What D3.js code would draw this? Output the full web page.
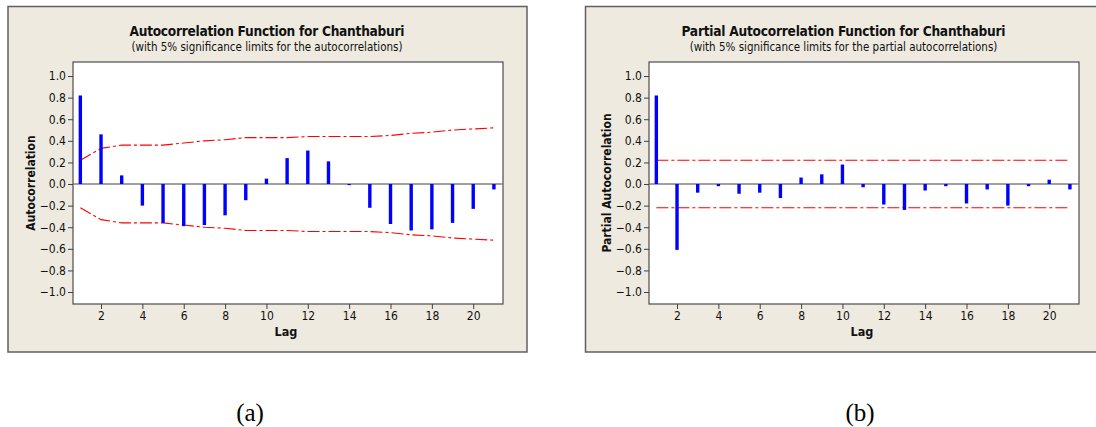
<!DOCTYPE html>
<html>
<head>
<meta charset="utf-8">
<script src="https://cdn.jsdelivr.net/npm/d3@7"></script>
<style>
  html, body { margin: 0; padding: 0; background: #ffffff; }
  svg { display: block; }
</style>
</head>
<body>
<svg id="chart" width="1096" height="427"></svg>
<script>
// ---- data ----
const lags = d3.range(1, 22);
const xTicks = [2, 4, 6, 8, 10, 12, 14, 16, 18, 20];
const yTicks = [1.0, 0.8, 0.6, 0.4, 0.2, 0.0, -0.2, -0.4, -0.6, -0.8, -1.0];

const acfValues = [0.82, 0.46, 0.08, -0.20, -0.36, -0.39, -0.38, -0.29, -0.15, 0.05,
                   0.24, 0.31, 0.21, -0.01, -0.22, -0.37, -0.43, -0.42, -0.36, -0.23, -0.05];
const acfLimits = [0.22, 0.33, 0.36, 0.36, 0.36, 0.38, 0.40, 0.41, 0.43, 0.43,
                   0.43, 0.44, 0.44, 0.44, 0.44, 0.45, 0.47, 0.48, 0.50, 0.51, 0.52];

const pacfValues = [0.82, -0.61, -0.08, -0.02, -0.09, -0.08, -0.13, 0.06, 0.09, 0.18,
                    -0.03, -0.19, -0.24, -0.06, -0.02, -0.18, -0.05, -0.20, -0.02, 0.04, -0.05];
const pacfLimit = 0.22;

const titles = ["Autocorrelation Function for Chanthaburi", "Partial Autocorrelation Function for Chanthaburi"];
const subtitles = ["(with 5% significance limits for the autocorrelations)", "(with 5% significance limits for the partial autocorrelations)"];
const yLabels = ["Autocorrelation", "Partial Autocorrelation"];
const panelLabels = ["(a)", "(b)"];

// ---- drawing ----
const svg = d3.select("#chart");
const uiFont = "'DejaVu Sans Condensed', 'Liberation Sans', Arial, sans-serif";

function drawPanel(cfg) {
  const g = svg.append("g");
  // outer frame
  g.append("rect")
    .attr("x", cfg.ox).attr("y", 6.5)
    .attr("width", cfg.ow).attr("height", 345.5)
    .attr("fill", "#eeeae0").attr("stroke", "#606060").attr("stroke-width", 1.5);

  const px0 = cfg.px, px1 = cfg.px + 430, py0 = 62, py1 = 304;
  const x = d3.scaleLinear().domain([0.645, 21.44]).range([px0, px1]);
  const y = d3.scaleLinear().domain([-1.111, 1.13]).range([py1, py0]);

  g.append("rect")
    .attr("x", px0).attr("y", py0).attr("width", px1 - px0).attr("height", py1 - py0)
    .attr("fill", "#ffffff").attr("stroke", "#5a5a5a").attr("stroke-width", 1.3);

  // axes
  const yAxis = d3.axisLeft(y).tickValues(yTicks).tickFormat(d3.format(".1f")).tickSize(5).tickPadding(2);
  const ga = g.append("g").attr("transform", `translate(${px0},0)`).call(yAxis);
  const xAxis = d3.axisBottom(x).tickValues(xTicks).tickFormat(d3.format("d")).tickSize(5).tickPadding(2);
  const gx = g.append("g").attr("transform", `translate(0,${py1})`).call(xAxis);
  [ga, gx].forEach(a => {
    a.select(".domain").remove();
    a.selectAll(".tick line").attr("stroke", "#404040");
    a.selectAll(".tick text").attr("fill", "#111").style("font-family", uiFont).style("font-size", "12px");
  });

  // zero line
  g.append("line")
    .attr("x1", px0).attr("x2", px1).attr("y1", y(0)).attr("y2", y(0))
    .attr("stroke", "#808080").attr("stroke-width", 1.5);

  // significance limits
  const lineGen = d3.line().x(d => x(d[0])).y(d => y(d[1]));
  [1, -1].forEach(sgn => {
    const pts = lags.map((l, i) => [l, sgn * cfg.limits[i]]);
    g.append("path").datum(pts)
      .attr("d", lineGen).attr("fill", "none")
      .attr("stroke", "#ff0000").attr("stroke-width", 1.1)
      .attr("stroke-dasharray", cfg.dash);
  });

  // bars
  g.selectAll(".bar").data(cfg.values).enter().append("line")
    .attr("x1", (d, i) => x(lags[i])).attr("x2", (d, i) => x(lags[i]))
    .attr("y1", y(0)).attr("y2", d => y(d))
    .attr("stroke", "#0000ff").attr("stroke-width", 3.4);

  // titles (centered on the panel frame)
  const tc = cfg.tcx;
  g.append("text").attr("x", tc).attr("y", 36).attr("text-anchor", "middle")
    .style("font-family", uiFont).style("font-size", "13.6px").style("font-weight", "bold").attr("fill", "#111")
    .attr("textLength", cfg.tw).attr("lengthAdjust", "spacing")
    .text(cfg.title);
  g.append("text").attr("x", tc).attr("y", 51).attr("text-anchor", "middle")
    .style("font-family", uiFont).style("font-size", "11.5px").attr("fill", "#111")
    .text(cfg.subtitle);
  g.append("text").attr("x", (px0 + px1) / 2 - 2).attr("y", 336).attr("text-anchor", "middle")
    .style("font-family", uiFont).style("font-size", "12.5px").style("font-weight", "bold").attr("fill", "#111")
    .text("Lag");
  g.append("text")
    .attr("transform", `translate(${cfg.ylx},183) rotate(-90)`)
    .attr("text-anchor", "middle")
    .style("font-family", uiFont).style("font-size", "12px").style("font-weight", "bold").attr("fill", "#111")
    .text(cfg.ylabel);

  // panel label
  svg.append("text").attr("x", cfg.labx).attr("y", 421).attr("text-anchor", "middle")
    .style("font-family", "'Liberation Serif', 'Times New Roman', serif").style("font-size", "25px").attr("fill", "#000")
    .text(cfg.panelLabel);
}

drawPanel({
  ox: 8, ow: 519, px: 73, values: acfValues, limits: acfLimits,
  title: titles[0], subtitle: subtitles[0], ylabel: yLabels[0], ylx: 35,
  tcx: 267, tw: 275,
  panelLabel: panelLabels[0], labx: 250, dash: "12,3,3,3"
});
drawPanel({
  ox: 585.5, ow: 520, px: 649, values: pacfValues, limits: lags.map(() => pacfLimit),
  title: titles[1], subtitle: subtitles[1], ylabel: yLabels[1], ylx: 611,
  tcx: 843.5, tw: 324,
  panelLabel: panelLabels[1], labx: 860, dash: "12,3,3,3"
});
</script>
</body>
</html>
